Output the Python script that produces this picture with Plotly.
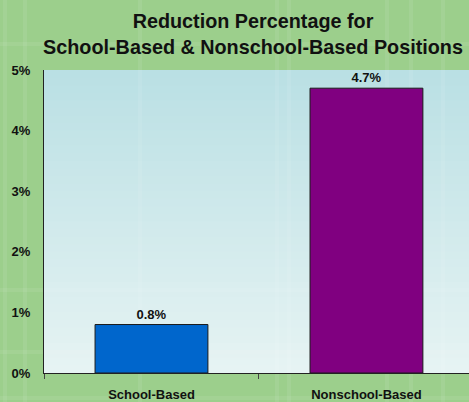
import plotly.graph_objects as go

# chart data
categories = ["School-Based", "Nonschool-Based"]
reduction_pct = [0.8, 4.7]
bar_colors = ["#0066CC", "#800080"]

FONT = "Liberation Sans, Arial, sans-serif"
GREEN = "#9ccf8c"
W, H = 469, 402

fig = go.Figure(
    go.Bar(
        x=categories,
        y=reduction_pct,
        marker=dict(color=bar_colors, line=dict(color="#1a1a1a", width=1)),
        text=[f"{v}%" for v in reduction_pct],
        textposition="outside",
        textfont=dict(family=FONT, size=13, color="#111111", weight="bold"),
        cliponaxis=False,
        width=0.525,
    )
)

# vertical gradient in the plot area (near-white at bottom to light blue at top)
top = (186, 224, 228)
bottom = (230, 243, 243)
n = 40
for i in range(n):
    t = i / (n - 1)
    c = tuple(round(bottom[k] + (top[k] - bottom[k]) * t) for k in range(3))
    fig.add_shape(
        type="rect", xref="x domain", yref="y domain",
        x0=0, x1=1, y0=i / n, y1=1,
        fillcolor=f"rgb{c}", line=dict(width=0), layer="below",
    )

# faint plaid lines in the green background (pixel positions)
for px_x in [5, 25, 140, 277, 289, 387, 411, 443]:
    fig.add_shape(type="line", xref="paper", yref="paper",
                  x0=(px_x - 44) / 425, x1=(px_x - 44) / 425,
                  y0=-0.2, y1=1.3, line=dict(color="rgba(255,255,255,0.08)", width=4),
                  layer="below")
for px_y in [44, 290, 352, 398]:
    yp = (373 - px_y) / 303
    fig.add_shape(type="line", xref="paper", yref="paper", x0=-0.2, x1=1.2,
                  y0=yp, y1=yp, line=dict(color="rgba(255,255,255,0.07)", width=4),
                  layer="below")

fig.update_layout(
    width=W,
    height=H,
    margin=dict(l=44, r=0, t=70, b=29),
    paper_bgcolor=GREEN,
    plot_bgcolor="rgba(0,0,0,0)",
    showlegend=False,
    title=dict(
        text="Reduction Percentage for<br>School-Based & Nonschool-Based Positions",
        x=253 / W, xanchor="center",
        yref="container", y=1 - 28 / H, yanchor="middle",
        font=dict(family=FONT, size=19.8, color="#111111", weight="bold"),
    ),
    bargap=0.475,
)

fig.update_xaxes(
    range=[-0.5, 1.477],
    showline=True, linecolor="#222222", linewidth=1,
    ticks="outside", tickson="boundaries", ticklen=5, tickcolor="#444444",
    showgrid=False, ticklabelstandoff=9,
    tickfont=dict(family=FONT, size=13, color="#111111", weight="bold"),
)
fig.update_yaxes(
    range=[0, 5], dtick=1, ticksuffix="%",
    showline=True, linecolor="#222222", linewidth=1,
    showgrid=False, zeroline=False, ticks="", ticklabelstandoff=10,
    tickfont=dict(family=FONT, size=13, color="#111111", weight="bold"),
)

fig.write_html("out.html", config={"displayModeBar": False},
               post_script="document.body.style.margin='0';")
